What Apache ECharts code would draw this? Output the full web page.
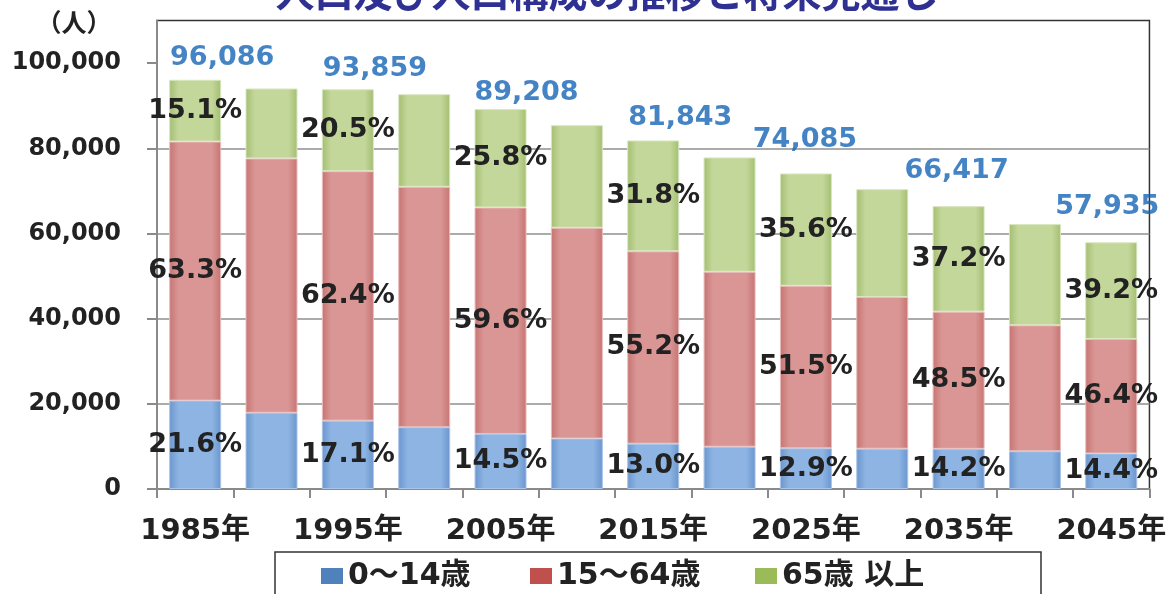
<!DOCTYPE html>
<html>
<head>
<meta charset="utf-8">
<script src="https://cdn.jsdelivr.net/npm/echarts@6/dist/echarts.min.js"></script>
<style>
html,body{margin:0;padding:0;background:#fff;}
#main{width:1169px;height:594px;}
</style>
</head>
<body>
<div id="main"></div>
<script>
// ---- data ----
var categories = ['1985年','1990年','1995年','2000年','2005年','2010年','2015年','2020年','2025年','2030年','2035年','2040年','2045年'];
var age0to14  = [20755, 17900, 16050, 14500, 12935, 11850, 10640, 9930, 9557, 9460, 9431, 8850, 8343];
var age15to64 = [60822, 59720, 58568, 56450, 53168, 49480, 45177, 41070, 38154, 35630, 32212, 29590, 26882];
var age65plus = [14509, 16420, 19241, 21750, 23105, 24100, 26026, 26850, 26374, 25310, 24774, 23760, 22710];
var totals    = [96086, 94040, 93859, 92700, 89208, 85430, 81843, 77920, 74085, 70400, 66417, 62200, 57935];
var pct0to14  = ['21.6', null, '17.1', null, '14.5', null, '13.0', null, '12.9', null, '14.2', null, '14.4'];
var pct15to64 = ['63.3', null, '62.4', null, '59.6', null, '55.2', null, '51.5', null, '48.5', null, '46.4'];
var pct65plus = ['15.1', null, '20.5', null, '25.8', null, '31.8', null, '35.6', null, '37.2', null, '39.2'];
var yTicks = [0, 20000, 40000, 60000, 80000, 100000];
var seriesNames = ['0～14歳', '15～64歳', '65歳 以上'];

// ---- style config ----
var totalLabelDx = [27, 0, 27, 0, 26, 0, 27, 0, -1, 0, -2, 0, -4];
var totalLabelDy = [-3, 0, -2, 0, 2, 0, -4, 0, -15, 0, -17, 0, -17];
var NUM_FONT = '"DejaVu Sans", "Noto Sans CJK JP", sans-serif';

function grad(edge, mid) {
  return {type:'linear', x:0, y:0, x2:1, y2:0, colorStops:[
    {offset:0, color:edge},{offset:0.18, color:mid},{offset:0.82, color:mid},{offset:1, color:edge}]};
}
function pctLabel(arr) {
  return {show:true, position:'inside', color:'#222', fontFamily:NUM_FONT, fontWeight:'bold', fontSize:27,
    formatter:function(p){ return arr[p.dataIndex] ? arr[p.dataIndex] + '%' : ''; }};
}
function fmt(v){ return Number(v).toLocaleString('en-US'); }

var chart = echarts.init(document.getElementById('main'), null, {renderer:'canvas'});
var legendCommon = {
  orient:'horizontal', top:561, padding:0, itemWidth:22, itemHeight:16, icon:'rect',
  selectedMode:false,
  textStyle:{color:'#222', fontFamily:NUM_FONT, fontWeight:'bold', fontSize:30, lineHeight:30}
};
var legendColors = ['#4F81BD', '#C0504D', '#9BBB59'];
var legendLefts = [321, 530, 755];

chart.setOption({
  animation:false,
  backgroundColor:'#fff',
  grid:{left:157, right:16, top:20.5, bottom:105, show:true, borderColor:'#333', borderWidth:1.5, backgroundColor:'transparent'},
  legend: seriesNames.map(function(n, i){
    return Object.assign({}, legendCommon, {left:legendLefts[i],
      data:[{name:n, itemStyle:{color:legendColors[i], borderWidth:0}}]});
  }),
  xAxis:{
    type:'category', data:categories,
    axisLine:{show:true, lineStyle:{color:'#8a8a8a', width:2}},
    axisTick:{show:true, interval:0, length:9, lineStyle:{color:'#8a8a8a', width:2}},
    axisLabel:{interval:1, margin:28, color:'#222', fontFamily:NUM_FONT, fontWeight:'bold', fontSize:29}
  },
  yAxis:{
    type:'value', min:0, max:110000, interval:20000,
    axisLine:{show:true, lineStyle:{color:'#8a8a8a', width:2}},
    axisTick:{show:true, length:10, lineStyle:{color:'#8a8a8a', width:2}, customValues:yTicks},
    axisLabel:{margin:36, color:'#222', fontFamily:NUM_FONT, fontWeight:'bold', fontSize:24,
      customValues:yTicks, formatter:function(v){ return v > 100000 ? '' : fmt(v); }},
    splitLine:{show:true, showMaxLine:false, lineStyle:{color:'#8f8f8f', width:1.5}}
  },
  graphic:[
    {type:'text', z:10,
      style:{text:'人口及び人口構成の推移と将来見通し', x:607, y:-8, align:'center', verticalAlign:'middle',
        fill:'#2E3192', font:'bold 39px "Noto Sans CJK JP", sans-serif'}},
    {type:'text', z:10,
      style:{text:'（人）', x:74, y:22, align:'center', verticalAlign:'middle',
        fill:'#222', font:'bold 25px "Noto Sans CJK JP", sans-serif'}},
    {type:'rect', z:0, shape:{x:275, y:552, width:766, height:60},
      style:{fill:'none', stroke:'#333', lineWidth:1.5}}
  ],
  series:[
    {name:seriesNames[0], type:'bar', stack:'pop', barWidth:52, data:age0to14,
      itemStyle:{color:grad('#6A95CE','#8DB4E2'), borderColor:'#A9C4E8', borderWidth:1},
      label:pctLabel(pct0to14)},
    {name:seriesNames[1], type:'bar', stack:'pop', barWidth:52, data:age15to64,
      itemStyle:{color:grad('#C67472','#D99694'), borderColor:'#E8BDBC', borderWidth:1},
      label:pctLabel(pct15to64)},
    {name:seriesNames[2], type:'bar', stack:'pop', barWidth:52, data:age65plus,
      itemStyle:{color:grad('#A3BE70','#C4D79B'), borderColor:'#D9E6C0', borderWidth:1},
      label:pctLabel(pct65plus)},
    {name:'total', type:'scatter', symbolSize:0, z:5, silent:true,
      data: totals.map(function(v, i){
        return {value:v, label:{offset:[totalLabelDx[i], totalLabelDy[i]]}};
      }),
      label:{show:true, position:'top', distance:5, color:'#1565B5', fontFamily:NUM_FONT, fontWeight:'bold', fontSize:27,
        formatter:function(p){ return p.dataIndex % 2 === 0 ? fmt(p.value) : ''; }}}
  ]
});
</script>
</body>
</html>
